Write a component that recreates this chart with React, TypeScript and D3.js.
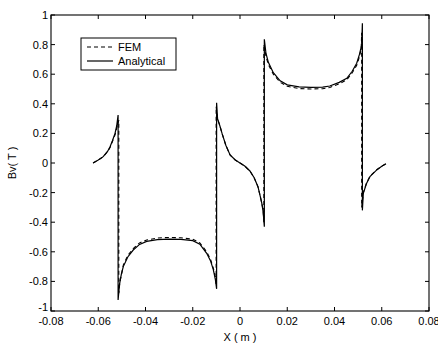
import React from "react";
import * as d3 from "d3";

const W = 438;
const H = 345;
const M = { left: 51, right: 9, top: 15, bottom: 34 };

const xTicks = [-0.08, -0.06, -0.04, -0.02, 0, 0.02, 0.04, 0.06, 0.08];
const xTickLabels = ["-0.08", "-0.06", "-0.04", "-0.02", "0", "0.02", "0.04", "0.06", "0.08"];
const yTicks = [-1, -0.8, -0.6, -0.4, -0.2, 0, 0.2, 0.4, 0.6, 0.8, 1];
const yTickLabels = ["-1", "-0.8", "-0.6", "-0.4", "-0.2", "0", "0.2", "0.4", "0.6", "0.8", "1"];

const analyticalX = [
  -0.0622, -0.06, -0.0579, -0.056, -0.055, -0.054, -0.0529, -0.0522, -0.0516,
  -0.0516, -0.051, -0.0502, -0.0494, -0.0475, -0.0452, -0.0425, -0.0395, -0.035, -0.03, -0.025, -0.02, -0.017, -0.0141, -0.0125, -0.0113, -0.0104, -0.0099,
  -0.0099, -0.0095, -0.0085, -0.0076, -0.006, -0.0042, -0.002, 0, 0.002, 0.0042, 0.006, 0.0076, 0.0085, 0.0092, 0.0098, 0.0103,
  0.0103, 0.011, 0.012, 0.0141, 0.017, 0.02, 0.025, 0.03, 0.035, 0.038, 0.042, 0.0452, 0.0475, 0.0494, 0.0505, 0.0515, 0.0518,
  0.0518, 0.0522, 0.0535, 0.055, 0.058, 0.06, 0.0618,
];
const analyticalY = [
  0, 0.02, 0.043, 0.08, 0.11, 0.15, 0.2, 0.25, 0.324,
  -0.926, -0.82, -0.75, -0.7, -0.635, -0.588, -0.55, -0.53, -0.518, -0.514, -0.516, -0.525, -0.548, -0.61, -0.66, -0.72, -0.79, -0.85,
  0.407, 0.3, 0.25, 0.2, 0.12, 0.054, 0.02, 0, -0.02, -0.054, -0.1, -0.16, -0.22, -0.27, -0.33, -0.43,
  0.836, 0.74, 0.68, 0.61, 0.555, 0.528, 0.514, 0.511, 0.513, 0.52, 0.545, 0.572, 0.62, 0.674, 0.73, 0.797, 0.944,
  -0.32, -0.205, -0.14, -0.092, -0.045, -0.022, -0.005,
];

const femX = [
  -0.0622, -0.06, -0.0579, -0.056, -0.055, -0.054, -0.0529, -0.0522, -0.0513,
  -0.0513, -0.0508, -0.05, -0.0494, -0.0475, -0.0452, -0.0425, -0.0395, -0.035, -0.03, -0.025, -0.02, -0.017, -0.0141, -0.0125, -0.0113, -0.0104, -0.0101,
  -0.0101, -0.0095, -0.0085, -0.0076, -0.006, -0.0042, -0.002, 0, 0.002, 0.0042, 0.006, 0.0076, 0.0085, 0.0092, 0.0098, 0.0101,
  0.0101, 0.011, 0.012, 0.0141, 0.017, 0.02, 0.025, 0.03, 0.035, 0.038, 0.042, 0.0452, 0.0475, 0.0494, 0.0505, 0.0513, 0.0515,
  0.0515, 0.0522, 0.0535, 0.055, 0.058, 0.06, 0.0618,
];
const femY = [
  0, 0.02, 0.042, 0.078, 0.105, 0.145, 0.19, 0.235, 0.29,
  -0.88, -0.8, -0.74, -0.69, -0.625, -0.578, -0.54, -0.52, -0.507, -0.503, -0.505, -0.515, -0.54, -0.6, -0.65, -0.71, -0.77, -0.82,
  0.38, 0.3, 0.25, 0.2, 0.12, 0.054, 0.02, 0, -0.02, -0.054, -0.1, -0.16, -0.22, -0.27, -0.32, -0.4,
  0.8, 0.72, 0.665, 0.6, 0.545, 0.518, 0.503, 0.5, 0.502, 0.51, 0.535, 0.562, 0.61, 0.66, 0.715, 0.77, 0.88,
  -0.3, -0.2, -0.138, -0.09, -0.044, -0.022, -0.005,
];

const FONT = "'Liberation Sans', Arial, Helvetica, sans-serif";

export default function App() {
  const x = d3.scaleLinear().domain([-0.08, 0.08]).range([M.left, W - M.right]);
  const y = d3.scaleLinear().domain([-1, 1]).range([H - M.bottom, M.top]);

  const line = d3
    .line<[number, number]>()
    .x((d) => x(d[0]))
    .y((d) => y(d[1]));

  const aPts: [number, number][] = analyticalX.map((v, i) => [v, analyticalY[i]]);
  const fPts: [number, number][] = femX.map((v, i) => [v, femY[i]]);

  const x0 = M.left;
  const x1 = W - M.right;
  const y0 = M.top;
  const y1 = H - M.bottom;
  const tl = 4;

  return (
    <svg width={W} height={H} style={{ position: "absolute", left: 0, top: 0, background: "#fff" }}>
      <rect x={0} y={0} width={W} height={H} fill="#fff" />
      {/* frame */}
      <rect x={x0} y={y0} width={x1 - x0} height={y1 - y0} fill="none" stroke="#000" strokeWidth={1.1} />
      {/* x ticks */}
      {xTicks.map((t, i) => (
        <g key={"xt" + i}>
          <line x1={x(t)} x2={x(t)} y1={y1} y2={y1 - tl} stroke="#000" strokeWidth={1} />
          <line x1={x(t)} x2={x(t)} y1={y0} y2={y0 + tl} stroke="#000" strokeWidth={1} />
          <text x={x(t)} y={y1 + 14} fontSize={11} fontFamily={FONT} textAnchor="middle" fill="#000">
            {xTickLabels[i]}
          </text>
        </g>
      ))}
      {/* y ticks */}
      {yTicks.map((t, i) => (
        <g key={"yt" + i}>
          <line x1={x0} x2={x0 + tl} y1={y(t)} y2={y(t)} stroke="#000" strokeWidth={1} />
          <line x1={x1} x2={x1 - tl} y1={y(t)} y2={y(t)} stroke="#000" strokeWidth={1} />
          <text
            x={x0 - 3}
            y={y(t) + (t === -1 ? 0 : 4)}
            fontSize={11}
            fontFamily={FONT}
            textAnchor="end"
            fill="#000"
          >
            {yTickLabels[i]}
          </text>
        </g>
      ))}
      {/* curves */}
      <path d={line(fPts) || ""} fill="none" stroke="#000" strokeWidth={1.1} strokeDasharray="4,3" />
      <path d={line(aPts) || ""} fill="none" stroke="#000" strokeWidth={1.2} />
      {/* legend */}
      <rect x={81} y={38} width={95} height={32} fill="#fff" stroke="#000" strokeWidth={1} />
      <line x1={87} x2={113} y1={47} y2={47} stroke="#000" strokeWidth={1.1} strokeDasharray="4,3" />
      <text x={118} y={51} fontSize={11} fontFamily={FONT} fill="#000">FEM</text>
      <line x1={87} x2={113} y1={61} y2={61} stroke="#000" strokeWidth={1.2} />
      <text x={118} y={65} fontSize={11} fontFamily={FONT} fill="#000">Analytical</text>
      {/* axis titles */}
      <text x={240} y={341} fontSize={11} fontFamily={FONT} textAnchor="middle" fill="#000">
        X ( m )
      </text>
      <text
        transform={`translate(16, ${(y0 + y1) / 2}) rotate(-90)`}
        fontSize={11}
        fontFamily={FONT}
        textAnchor="middle"
        fill="#000"
      >
        Bv( T )
      </text>
    </svg>
  );
}
